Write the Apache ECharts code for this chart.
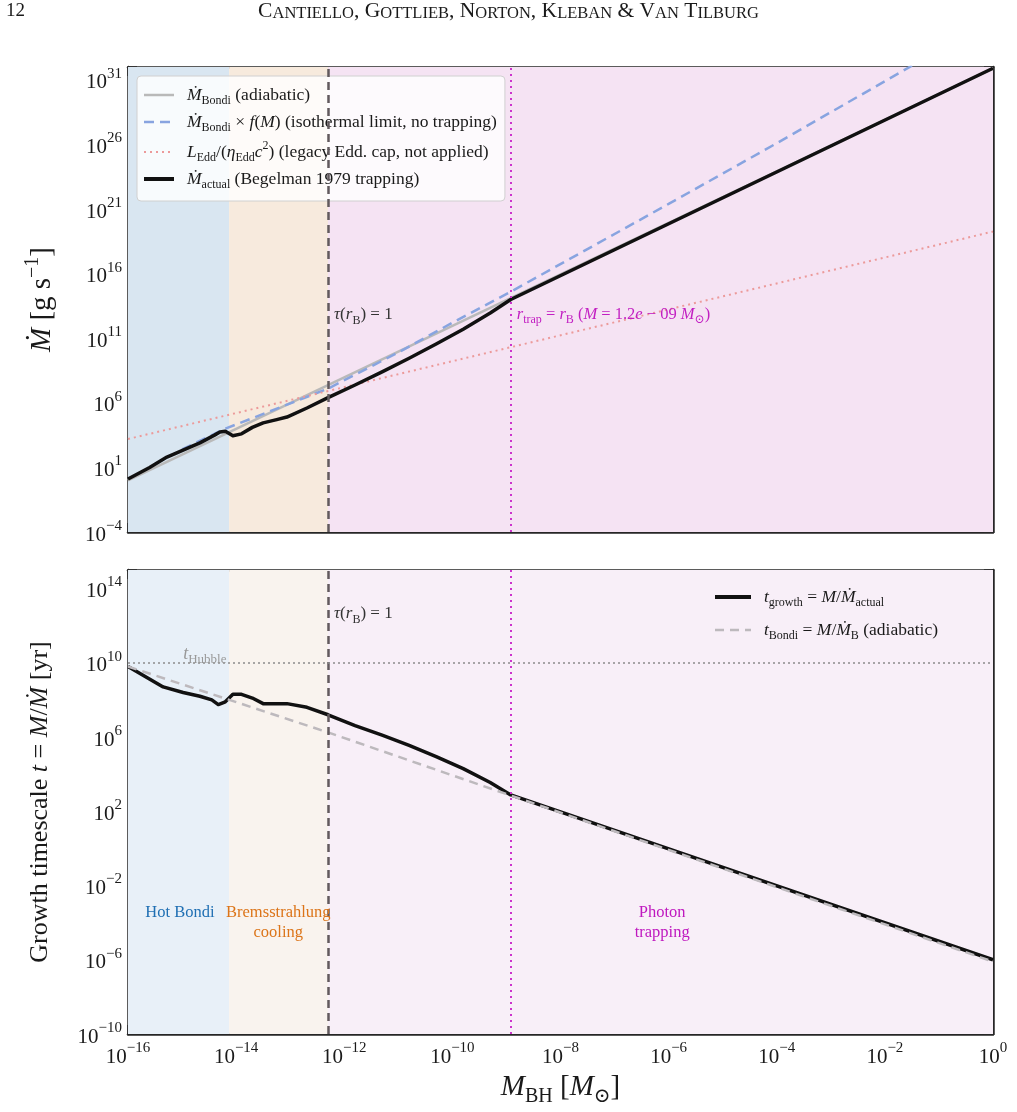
<!DOCTYPE html>
<html lang="en">
<head>
<meta charset="UTF-8"/>
<script src="https://cdn.jsdelivr.net/npm/echarts@6/dist/echarts.min.js"></script>
<title>Accretion rate and growth timescale</title>
<style>html,body{margin:0;padding:0;background:#fff;}</style>
</head>
<body>
<div id="main" style="width:1017px;height:1112px;"></div>
<script type="text/javascript">
// all values are log10: x = M_BH [M_sun], top = Mdot [g/s], bottom = t [yr]
var xTicks = [-16, -14, -12, -10, -8, -6, -4, -2, 0];
var regionBounds = [-16, -14.13, -12.3, 0];
var tauX = -12.3;
var trapX = -8.92;   // M = 1.2e-9
var hubbleLog = 10;

var bondiX = [-16, 0];
var bondiLog = [0.0, 31.9];

var bondiFX = [-15.0, -14.2, -13.4, -12.3, -11.0, -10.0, -8.92, -6.0, -4.0, -2.0, -1.5];
var bondiFLog = [2.4, 4.0, 5.3, 7.1, 9.9, 12.2, 14.6, 21.4, 26.1, 30.9, 32.1];

var eddX = [-16, 0];
var eddLog = [3.2, 19.26];

var actualX = [-16, -15.6, -15.28, -14.67, -14.4, -14.3, -14.2, -14.06, -13.9, -13.7, -13.5, -13.25, -13.06, -12.69, -12.3, -11.8, -11.3, -10.8, -10.3, -9.8, -9.3, -8.92, 0];
var actualLog = [0.1, 1.0, 1.8, 2.9, 3.5, 3.75, 3.8, 3.45, 3.6, 4.1, 4.45, 4.7, 4.9, 5.6, 6.4, 7.38, 8.4, 9.45, 10.55, 11.7, 12.95, 14.0, 31.9];

var growthX = [-16, -15.35, -14.98, -14.67, -14.45, -14.33, -14.2, -14.06, -13.9, -13.7, -13.5, -13.06, -12.69, -12.3, -11.8, -11.3, -10.8, -10.3, -9.8, -9.3, -8.92, 0];
var growthLog = [9.8, 8.7, 8.4, 8.2, 8.0, 7.75, 7.9, 8.3, 8.3, 8.1, 7.8, 7.8, 7.6, 7.2, 6.62, 6.1, 5.55, 4.95, 4.3, 3.55, 2.88, -6.0];

var tBondiX = [-16, -12.3, -8.92, 0];
var tBondiLog = [9.8, 6.25, 2.85, -6.1];

// value axes carry log10 shifted so that the lowest tick sits on 0
var TOP_OFF = 4, TOP_MAX = 36, TOP_STEP = 5;
var BOT_OFF = 10, BOT_MAX = 25, BOT_STEP = 4;

var SERIF = '"Liberation Serif", "DejaVu Serif", serif';

function pairs(xs, ys, off) {
    return xs.map(function (x, i) { return [x, ys[i] + off]; });
}

function mathRich(size) {
    var sub = Math.round(size * 0.7);
    var lh = Math.round(size * 1.35);
    return {
        mi: {fontFamily: SERIF, fontStyle: 'italic', fontSize: size, lineHeight: lh},
        rm: {fontFamily: SERIF, fontSize: size, lineHeight: lh},
        sb: {fontFamily: SERIF, fontSize: sub, lineHeight: sub + 1, verticalAlign: 'bottom'},
        sp: {fontFamily: SERIF, fontSize: sub, lineHeight: sub + 1, verticalAlign: 'top'},
        gap: {width: 8, fontSize: size, lineHeight: lh}
    };
}

function minus(n) {
    return n < 0 ? '\u2212' + (-n) : String(n);
}

function powLabel(off, step) {
    return function (v) {
        if (Math.round(v) % step !== 0) return '';
        return '{t|10}{e|' + minus(Math.round(v) - off) + '}';
    };
}

var tickRich = {
    t: {fontFamily: SERIF, fontSize: 21, lineHeight: 27, color: '#1a1a1a', verticalAlign: 'bottom'},
    e: {fontFamily: SERIF, fontSize: 15, lineHeight: 15, color: '#1a1a1a', verticalAlign: 'top'}
};

function smallCaps(s) {
    var out = '', run = '', cls = null;
    for (var i = 0; i < s.length; i++) {
        var ch = s[i];
        var c = (ch >= 'a' && ch <= 'z') ? 'sc' : 'cap';
        if (c !== cls && run) { out += '{' + cls + '|' + run + '}'; run = ''; }
        cls = c;
        run += (c === 'sc') ? ch.toUpperCase() : ch;
    }
    if (run) out += '{' + cls + '|' + run + '}';
    return out;
}

var spine = {show: true, onZero: false, lineStyle: {color: '#262626', width: 2.5}};
var ticks = {show: true, inside: true, length: 9, lineStyle: {color: '#2a2a2a', width: 1.5}};

function xAx(grid, pos, labels) {
    return {
        type: 'value', gridIndex: grid, position: pos, min: -16, max: 0, interval: 2,
        axisLine: spine, axisTick: ticks, splitLine: {show: false},
        axisLabel: labels ? {show: true, margin: 7, formatter: powLabel(0, 2), rich: tickRich} : {show: false},
        name: labels ? '{mi|M}{sb|BH}{rm| [}{mi|M}{sb|\u2299}{rm|]}' : '',
        nameLocation: 'middle', nameGap: 34,
        nameTextStyle: {color: '#1a1a1a', rich: mathRich(29)}
    };
}

function yAx(grid, pos, max, step, off, labels, name, nameSize, gap) {
    return {
        type: 'value', gridIndex: grid, position: pos, min: 0, max: max, interval: step,
        axisLine: spine, axisTick: ticks, splitLine: {show: false},
        axisLabel: labels ? {show: true, margin: 6, formatter: powLabel(off, step), rich: tickRich} : {show: false},
        name: name || '', nameLocation: 'middle', nameRotate: 90, nameGap: gap || 70,
        nameTextStyle: {color: '#1a1a1a', rich: mathRich(nameSize || 26)}
    };
}

function regionAreas(colors) {
    var out = [];
    for (var i = 0; i < colors.length; i++) {
        out.push([{xAxis: regionBounds[i], itemStyle: {color: colors[i]}}, {xAxis: regionBounds[i + 1]}]);
    }
    return out;
}

function note(coord, text, size, color, pos, dist) {
    return {
        coord: coord, symbol: 'circle', symbolSize: 0, itemStyle: {color: 'rgba(0,0,0,0)'},
        label: {
            show: true, position: pos || 'right', distance: dist == null ? 6 : dist,
            color: color, fontFamily: SERIF, fontSize: size, lineHeight: Math.round(size * 1.2),
            align: pos === 'bottom' ? 'center' : undefined,
            formatter: function () { return text; }, rich: mathRich(size)
        }
    };
}

var vlines = [
    {xAxis: tauX, lineStyle: {color: '#625a5d', width: 2.5, type: [8, 5]}},
    {xAxis: trapX, lineStyle: {color: '#cc33cc', width: 2, type: [2, 4]}}
];

var legendNames = {
    bondi: '{gap| }{mi|\u1E40}{sb|Bondi}{rm| (adiabatic)}',
    bondiF: '{gap| }{mi|\u1E40}{sb|Bondi}{rm| \u00D7 }{mi|f}{rm|(}{mi|M}{rm|) (isothermal limit, no trapping)}',
    edd: '{gap| }{mi|L}{sb|Edd}{rm|/(}{mi|\u03B7}{sb|Edd}{mi|c}{sp|2}{rm|) (legacy Edd. cap, not applied)}',
    actual: '{gap| }{mi|\u1E40}{sb|actual}{rm| (Begelman 1979 trapping)}',
    tgrowth: '{gap| }{mi|t}{sb|growth}{rm| = }{mi|M}{rm|/}{mi|\u1E40}{sb|actual}',
    tbondi: '{gap| }{mi|t}{sb|Bondi}{rm| = }{mi|M}{rm|/}{mi|\u1E40}{sb|B}{rm| (adiabatic)}'
};

var myChart = echarts.init(document.getElementById('main'));

var option = {
    animation: false,
    backgroundColor: '#ffffff',
    graphic: [
        {type: 'text', left: 6, top: 2, style: {text: '12', font: '19px ' + SERIF, fill: '#1a1a1a'}},
        {type: 'text', left: 'center', top: 0, style: {
            text: smallCaps('Cantiello, Gottlieb, Norton, Kleban & Van Tilburg'),
            fill: '#1a1a1a',
            rich: {cap: {fontFamily: SERIF, fontSize: 21.5, lineHeight: 24, verticalAlign: 'bottom'},
                   sc: {fontFamily: SERIF, fontSize: 16.5, lineHeight: 19.5, verticalAlign: 'bottom'}}
        }}
    ],
    grid: [
        {left: 128, top: 67, width: 865, height: 465},
        {left: 128, top: 570, width: 865, height: 464}
    ],
    xAxis: [xAx(0, 'bottom', false), xAx(1, 'bottom', true), xAx(0, 'top', false), xAx(1, 'top', false)],
    yAxis: [
        yAx(0, 'left', TOP_MAX, TOP_STEP, TOP_OFF, true, '{mi|\u1E40}{rm| [g s}{sp|\u22121}{rm|]}', 29, 66),
        yAx(1, 'left', BOT_MAX, BOT_STEP, BOT_OFF, true, '{rm|Growth timescale }{mi|t}{rm| = }{mi|M}{rm|/}{mi|\u1E40}{rm| [yr]}', 26, 70),
        yAx(0, 'right', TOP_MAX, TOP_STEP, TOP_OFF, false),
        yAx(1, 'right', BOT_MAX, BOT_STEP, BOT_OFF, false)
    ],
    legend: [
        {
            data: [
                {name: 'bondi', lineStyle: {width: 2.5}},
                {name: 'bondiF', lineStyle: {width: 2.5}},
                {name: 'edd', lineStyle: {width: 2}},
                {name: 'actual', lineStyle: {width: 4}}
            ],
            orient: 'vertical', left: 137, top: 76,
            padding: [10, 8, 10, 5], itemGap: 6, itemWidth: 30, itemHeight: 14,
            backgroundColor: 'rgba(255,255,255,0.82)', borderColor: '#d0d0d0', borderWidth: 1, borderRadius: 4,
            selectedMode: false, itemStyle: {opacity: 0},
            formatter: function (n) { return legendNames[n]; },
            textStyle: {color: '#1a1a1a', fontFamily: SERIF, fontSize: 17.5, rich: mathRich(17.5)}
        },
        {
            data: [
                {name: 'tgrowth', lineStyle: {width: 4}},
                {name: 'tbondi', lineStyle: {width: 2.5}}
            ],
            orient: 'vertical', left: 713, top: 588,
            padding: 0, itemGap: 12, itemWidth: 36, itemHeight: 14, selectedMode: false,
            itemStyle: {opacity: 0},
            formatter: function (n) { return legendNames[n]; },
            textStyle: {color: '#1a1a1a', fontFamily: SERIF, fontSize: 17.5, rich: mathRich(17.5)}
        }
    ],
    series: [
        // top panel backdrop, guides and notes
        {
            type: 'line', xAxisIndex: 0, yAxisIndex: 0, data: [], z: 1, silent: true,
            markArea: {silent: true, data: regionAreas(['#d9e6f1', '#f7eadd', '#f5e3f3'])}
        },
        {
            type: 'line', xAxisIndex: 0, yAxisIndex: 0, data: [], z: 2, silent: true,
            markLine: {silent: true, symbol: ['none', 'none'], label: {show: false}, data: vlines},
            markPoint: {silent: true, data: [
                note([tauX, 12.8 + TOP_OFF], '{mi|\u03C4}{rm|(}{mi|r}{sb|B}{rm|) = 1}', 17, '#333333'),
                note([trapX, 12.8 + TOP_OFF], '{mi|r}{sb|trap}{rm| = }{mi|r}{sb|B}{rm| (}{mi|M}{rm| = 1.2}{mi|e}{rm| \u2212 09 }{mi|M}{sb|\u2299}{rm|)}', 16.5, '#c21fc2')
            ]}
        },
        {
            name: 'bondi', type: 'line', xAxisIndex: 0, yAxisIndex: 0, z: 3, showSymbol: false, symbol: 'none',
            data: pairs(bondiX, bondiLog, TOP_OFF), lineStyle: {color: '#b9b9b9', width: 2.5}, itemStyle: {color: '#b9b9b9'}
        },
        {
            name: 'bondiF', type: 'line', xAxisIndex: 0, yAxisIndex: 0, z: 3, showSymbol: false, symbol: 'none',
            data: pairs(bondiFX, bondiFLog, TOP_OFF), lineStyle: {color: '#88a4e0', width: 2.5, type: [10, 6]}, itemStyle: {color: '#88a4e0'}
        },
        {
            name: 'edd', type: 'line', xAxisIndex: 0, yAxisIndex: 0, z: 3, showSymbol: false, symbol: 'none',
            data: pairs(eddX, eddLog, TOP_OFF), lineStyle: {color: '#ec9a9a', width: 2, type: [2, 4]}, itemStyle: {color: '#ec9a9a'}
        },
        {
            name: 'actual', type: 'line', xAxisIndex: 0, yAxisIndex: 0, z: 4, showSymbol: false, symbol: 'none',
            data: pairs(actualX, actualLog, TOP_OFF), lineStyle: {color: '#111111', width: 3.5, join: 'round'}, itemStyle: {color: '#111111'}
        },
        // bottom panel backdrop, guides and notes
        {
            type: 'line', xAxisIndex: 1, yAxisIndex: 1, data: [], z: 1, silent: true,
            markArea: {silent: true, data: regionAreas(['#e8f0f8', '#f9f3ee', '#f8eff8'])}
        },
        {
            type: 'line', xAxisIndex: 1, yAxisIndex: 1, data: [], z: 2, silent: true,
            markLine: {silent: true, symbol: ['none', 'none'], label: {show: false}, data: vlines.concat([
                {yAxis: hubbleLog + BOT_OFF, lineStyle: {color: '#8c8c8c', width: 1.5, type: [2, 3]}}
            ])},
            markPoint: {silent: true, data: [
                note([tauX, 12.63 + BOT_OFF], '{mi|\u03C4}{rm|(}{mi|r}{sb|B}{rm|) = 1}', 17, '#333333'),
                note([-14.98, 10.45 + BOT_OFF], '{mi|t}{sb|Hubble}', 18, '#999999', 'right', 0),
                note([-15.04, -2.95 + BOT_OFF], 'Hot Bondi', 16.5, '#1f6fb3', 'bottom', 0),
                note([-13.22, -2.95 + BOT_OFF], 'Bremsstrahlung\ncooling', 16.5, '#dc7418', 'bottom', 0),
                note([-6.12, -2.95 + BOT_OFF], 'Photon\ntrapping', 16.5, '#bf18bf', 'bottom', 0)
            ]}
        },
        {
            name: 'tgrowth', type: 'line', xAxisIndex: 1, yAxisIndex: 1, z: 3, showSymbol: false, symbol: 'none',
            data: pairs(growthX, growthLog, BOT_OFF), lineStyle: {color: '#111111', width: 3.5, join: 'round'}, itemStyle: {color: '#111111'}
        },
        {
            name: 'tbondi', type: 'line', xAxisIndex: 1, yAxisIndex: 1, z: 4, showSymbol: false, symbol: 'none',
            data: pairs(tBondiX, tBondiLog, BOT_OFF), lineStyle: {color: '#bdb9bd', width: 2.5, type: [9, 6]}, itemStyle: {color: '#bdb9bd'}
        }
    ]
};

myChart.setOption(option);
</script>
</body>
</html>
